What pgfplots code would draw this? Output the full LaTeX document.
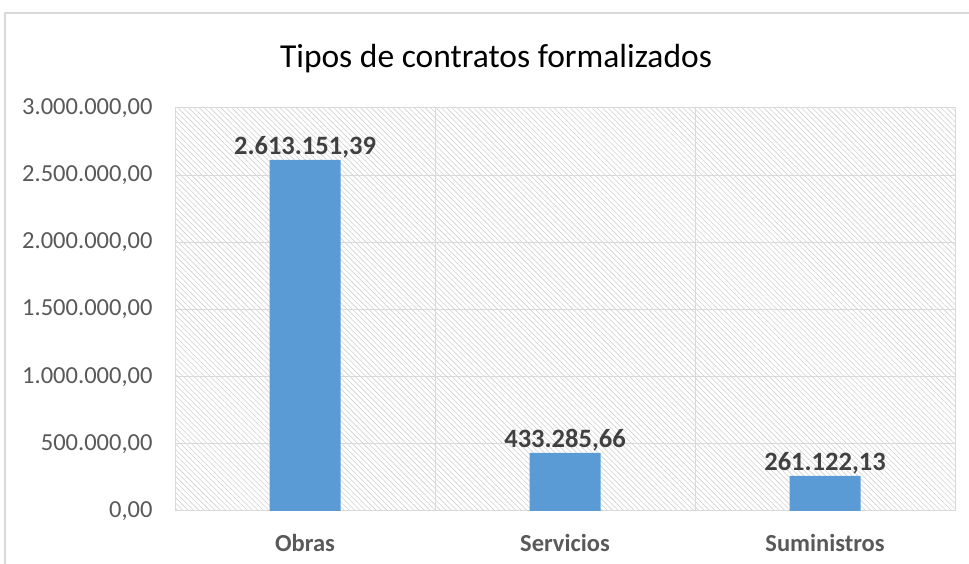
\documentclass[border=0pt]{standalone}
\usepackage{pgfplots}
\pgfplotsset{compat=1.18}
\usepackage{pgfplotstable}
\usepackage{fontspec}
\setmainfont{Carlito}
\usetikzlibrary{patterns.meta}
\definecolor{barblue}{HTML}{5B9BD5}
\definecolor{gridc}{HTML}{D9D9D9}
\definecolor{tickc}{HTML}{595959}
\definecolor{lblc}{HTML}{404040}
\definecolor{hatchc}{HTML}{D0D0D0}
\pgfplotstableread{
x y label
0 2613151.39 2.613.151,39
1 433285.66 433.285,66
2 261122.13 261.122,13
}\datatable
\begin{document}
\begin{tikzpicture}[x=1pt,y=1pt]
\path[use as bounding box] (0,0) rectangle (969,564);
\draw[gridc, line width=1.5pt] (5,0) -- (5,551) -- (969,551);
\node[font=\fontsize{33.5}{38}\selectfont, text=black] at (496,505) {Tipos de contratos formalizados};
\begin{axis}[
  at={(175pt,53pt)}, anchor=south west,
  scale only axis, width=780pt, height=403pt,
  xmin=-0.5, xmax=2.5, ymin=0, ymax=3000000,
  ytick={0,500000,1000000,1500000,2000000,2500000,3000000},
  scaled y ticks=false,
  y tick label style={/pgf/number format/fixed, /pgf/number format/fixed zerofill, /pgf/number format/precision=2, /pgf/number format/use comma, /pgf/number format/1000 sep={.}, /pgf/number format/assume math mode=true},
  yticklabel style={font=\fontsize{24.5}{28}\selectfont, text=tickc, xshift=-19pt},
  xtick={0,1,2}, xticklabels={Obras,Servicios,Suministros},
  xticklabel style={font=\fontsize{24.5}{28}\selectfont\bfseries, text=tickc, yshift=-20pt},
  minor xtick={0.5,1.5},
  xminorgrids, ymajorgrids,
  grid style={gridc, line width=1pt},
  minor grid style={gridc, line width=1pt},
  major tick length=0pt, minor tick length=0pt,
  axis line style={gridc, line width=1pt},
  axis background/.style={pattern={Lines[angle=-45,distance=3.8pt,line width=0.6pt]}, pattern color=hatchc},
  clip=false,
]
\addplot[ybar, bar width=71pt, fill=barblue, draw=none,
  point meta=explicit symbolic,
  nodes near coords,
  every node near coord/.append style={font=\fontsize{26.5}{30}\selectfont\bfseries, text=lblc, yshift=-2pt}]
  table[x=x, y=y, meta=label] {\datatable};
\end{axis}
\end{tikzpicture}
\end{document}
